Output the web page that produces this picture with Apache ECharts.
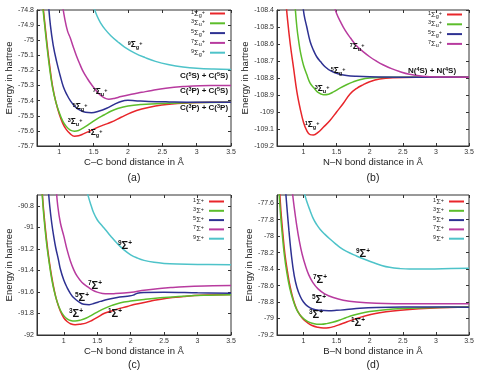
<!DOCTYPE html>
<html><head><meta charset="utf-8">
<script src="https://cdn.jsdelivr.net/npm/echarts@6/dist/echarts.min.js"></script>
<style>html,body{margin:0;padding:0;background:#fff}#c{width:480px;height:373px}</style>
</head><body><div id="c"></div>
<script>
// ---------- tick labels ----------
const xTicks = [1, 1.5, 2, 2.5, 3, 3.5];
const yTicksA = [-75.7, -75.6, -75.5, -75.4, -75.3, -75.2, -75.1, -75, -74.9, -74.8];
const yTicksB = [-109.2, -109.1, -109, -108.9, -108.8, -108.7, -108.6, -108.5, -108.4];
const yTicksC = [-92, -91.8, -91.6, -91.4, -91.2, -91, -90.8];
const yTicksD = [-79.2, -79, -78.8, -78.6, -78.4, -78.2, -78, -77.8, -77.6];

// ---------- state names ----------
const homoStates = ['1Σg+', '3Σu+', '5Σg+', '7Σu+', '9Σg+'];
const heteroStates = ['1Σ+', '3Σ+', '5Σ+', '7Σ+', '9Σ+'];
const colors = ['#e8262b', '#5cbd2b', '#2e3192', '#b83b9f', '#4ec3c9'];

// ---------- (a) C–C ----------
const cc1 = [[0.75,-74.72],[0.78,-74.85],[0.82,-75.02],[0.86,-75.17],[0.90,-75.30],[0.95,-75.41],[1.00,-75.49],[1.05,-75.55],[1.10,-75.59],[1.16,-75.62],[1.22,-75.635],[1.28,-75.632],[1.35,-75.62],[1.45,-75.60],[1.55,-75.578],[1.65,-75.56],[1.75,-75.543],[1.90,-75.51],[2.05,-75.478],[2.20,-75.455],[2.40,-75.435],[2.60,-75.423],[2.85,-75.415],[3.2,-75.41],[3.5,-75.41]];
const cc3 = [[0.75,-74.74],[0.78,-74.87],[0.82,-75.04],[0.86,-75.19],[0.90,-75.31],[0.95,-75.41],[1.00,-75.48],[1.05,-75.535],[1.10,-75.57],[1.16,-75.595],[1.22,-75.602],[1.28,-75.597],[1.35,-75.58],[1.45,-75.55],[1.55,-75.52],[1.65,-75.495],[1.75,-75.47],[1.85,-75.452],[2.0,-75.435],[2.2,-75.425],[2.5,-75.418],[3.0,-75.412],[3.5,-75.41]];
const cc5 = [[0.84,-74.75],[0.87,-74.9],[0.91,-75.03],[0.96,-75.14],[1.01,-75.23],[1.06,-75.31],[1.11,-75.36],[1.16,-75.40],[1.23,-75.44],[1.30,-75.463],[1.38,-75.477],[1.47,-75.48],[1.57,-75.47],[1.69,-75.45],[1.80,-75.425],[1.90,-75.405],[2.0,-75.398],[2.1,-75.40],[2.3,-75.405],[2.6,-75.408],[3.0,-75.41],[3.5,-75.41]];
const cc7 = [[1.04,-74.75],[1.08,-74.86],[1.12,-74.94],[1.16,-74.985],[1.20,-75.04],[1.25,-75.105],[1.30,-75.16],[1.35,-75.21],[1.41,-75.255],[1.47,-75.295],[1.53,-75.33],[1.59,-75.36],[1.65,-75.38],[1.72,-75.39],[1.80,-75.385],[1.90,-75.373],[2.05,-75.358],[2.20,-75.345],[2.35,-75.332],[2.55,-75.318],[2.80,-75.307],[3.05,-75.301],[3.5,-75.30]];
const cc9 = [[1.50,-74.78],[1.55,-74.84],[1.60,-74.885],[1.67,-74.93],[1.75,-74.97],[1.85,-75.01],[1.95,-75.045],[2.10,-75.085],[2.25,-75.115],[2.40,-75.14],[2.60,-75.162],[2.80,-75.177],[3.0,-75.186],[3.25,-75.191],[3.5,-75.193]];

// ---------- (b) N–N ----------
const nn1 = [[0.73,-108.33],[0.76,-108.46],[0.80,-108.6],[0.85,-108.74],[0.90,-108.88],[0.95,-108.98],[1.00,-109.06],[1.05,-109.11],[1.10,-109.133],[1.15,-109.135],[1.22,-109.12],[1.30,-109.09],[1.40,-109.05],[1.50,-109.0],[1.60,-108.95],[1.70,-108.895],[1.80,-108.862],[1.90,-108.84],[2.0,-108.822],[2.15,-108.806],[2.35,-108.798],[2.7,-108.795],[3.5,-108.795]];
const nn3 = [[0.87,-108.36],[0.90,-108.50],[0.93,-108.59],[0.96,-108.66],[1.00,-108.725],[1.05,-108.78],[1.10,-108.83],[1.15,-108.855],[1.22,-108.885],[1.30,-108.898],[1.38,-108.895],[1.46,-108.88],[1.55,-108.86],[1.65,-108.84],[1.75,-108.823],[1.85,-108.81],[2.0,-108.80],[2.3,-108.796],[3.5,-108.795]];
const nn5 = [[0.985,-108.35],[1.01,-108.43],[1.05,-108.50],[1.10,-108.585],[1.15,-108.636],[1.20,-108.675],[1.26,-108.705],[1.33,-108.735],[1.42,-108.76],[1.52,-108.775],[1.65,-108.785],[1.80,-108.79],[2.0,-108.793],[2.5,-108.795],[3.5,-108.795]];
const nn7 = [[1.46,-108.37],[1.50,-108.42],[1.56,-108.47],[1.63,-108.52],[1.71,-108.565],[1.80,-108.61],[1.90,-108.645],[2.0,-108.675],[2.1,-108.70],[2.2,-108.722],[2.33,-108.745],[2.45,-108.762],[2.6,-108.778],[2.8,-108.789],[3.0,-108.794],[3.5,-108.795]];

// ---------- (c) C–N ----------
const cn1 = [[0.67,-90.6],[0.70,-90.85],[0.74,-91.10],[0.78,-91.30],[0.82,-91.46],[0.86,-91.59],[0.90,-91.69],[0.95,-91.78],[1.00,-91.84],[1.05,-91.875],[1.10,-91.895],[1.17,-91.905],[1.25,-91.90],[1.33,-91.89],[1.42,-91.865],[1.52,-91.83],[1.60,-91.80],[1.70,-91.78],[1.80,-91.76],[1.95,-91.735],[2.05,-91.717],[2.29,-91.686],[2.54,-91.658],[2.79,-91.643],[3.04,-91.632],[3.5,-91.625]];
const cn3 = [[0.67,-90.62],[0.70,-90.88],[0.74,-91.13],[0.78,-91.32],[0.82,-91.48],[0.86,-91.60],[0.90,-91.69],[0.95,-91.77],[1.00,-91.82],[1.05,-91.85],[1.10,-91.865],[1.17,-91.87],[1.25,-91.862],[1.33,-91.845],[1.42,-91.815],[1.52,-91.78],[1.62,-91.75],[1.72,-91.725],[1.85,-91.70],[2.0,-91.685],[2.2,-91.67],[2.5,-91.652],[2.8,-91.64],[3.1,-91.632],[3.5,-91.627]];
const cn5 = [[0.765,-90.62],[0.79,-90.80],[0.82,-90.96],[0.85,-91.085],[0.88,-91.19],[0.92,-91.30],[0.95,-91.39],[1.00,-91.49],[1.05,-91.56],[1.10,-91.615],[1.15,-91.655],[1.22,-91.69],[1.30,-91.715],[1.38,-91.718],[1.46,-91.705],[1.55,-91.688],[1.65,-91.67],[1.80,-91.652],[1.95,-91.64],[2.04,-91.63],[2.10,-91.612],[2.2,-91.605],[2.5,-91.603],[3.0,-91.608],[3.5,-91.612]];
const cn7 = [[0.885,-90.62],[0.91,-90.80],[0.95,-90.96],[1.0,-91.08],[1.05,-91.21],[1.10,-91.315],[1.15,-91.395],[1.20,-91.454],[1.27,-91.51],[1.35,-91.55],[1.43,-91.583],[1.50,-91.602],[1.58,-91.614],[1.66,-91.618],[1.75,-91.616],[1.9,-91.61],[2.05,-91.60],[2.2,-91.585],[2.4,-91.57],[2.6,-91.56],[2.8,-91.552],[3.1,-91.545],[3.5,-91.54]];
const cn9 = [[1.345,-90.65],[1.37,-90.72],[1.41,-90.80],[1.45,-90.87],[1.50,-90.93],[1.55,-90.97],[1.62,-91.02],[1.70,-91.08],[1.80,-91.15],[1.90,-91.21],[2.0,-91.255],[2.1,-91.285],[2.2,-91.307],[2.35,-91.325],[2.5,-91.335],[2.7,-91.341],[3.0,-91.345],[3.5,-91.347]];

// ---------- (d) B–N ----------
const bn1 = [[0.64,-77.45],[0.66,-77.70],[0.69,-77.98],[0.72,-78.22],[0.76,-78.44],[0.80,-78.62],[0.85,-78.78],[0.90,-78.89],[0.95,-78.96],[1.00,-79.01],[1.06,-79.05],[1.13,-79.085],[1.21,-79.105],[1.30,-79.115],[1.38,-79.112],[1.47,-79.095],[1.56,-79.07],[1.66,-79.04],[1.76,-79.01],[1.88,-78.98],[2.0,-78.955],[2.15,-78.93],[2.35,-78.908],[2.6,-78.89],[2.9,-78.875],[3.2,-78.865],[3.5,-78.86]];
const bn3 = [[0.63,-77.45],[0.65,-77.70],[0.68,-77.98],[0.71,-78.22],[0.75,-78.45],[0.79,-78.62],[0.84,-78.77],[0.89,-78.88],[0.94,-78.95],[1.00,-79.0],[1.06,-79.035],[1.13,-79.058],[1.20,-79.068],[1.27,-79.07],[1.35,-79.062],[1.44,-79.045],[1.54,-79.02],[1.64,-78.99],[1.75,-78.96],[1.87,-78.935],[2.0,-78.915],[2.2,-78.895],[2.5,-78.878],[3.0,-78.865],[3.5,-78.86]];
const bn5 = [[0.73,-77.45],[0.75,-77.65],[0.78,-77.93],[0.82,-78.25],[0.86,-78.48],[0.90,-78.62],[0.95,-78.73],[1.00,-78.80],[1.06,-78.85],[1.14,-78.885],[1.25,-78.90],[1.38,-78.905],[1.50,-78.90],[1.65,-78.89],[1.85,-78.875],[2.1,-78.865],[2.5,-78.86],[3.0,-78.86],[3.5,-78.862]];
const bn7 = [[0.83,-77.45],[0.86,-77.65],[0.90,-77.88],[0.94,-78.07],[0.98,-78.22],[1.03,-78.36],[1.08,-78.47],[1.14,-78.56],[1.22,-78.64],[1.32,-78.70],[1.45,-78.745],[1.60,-78.778],[1.80,-78.80],[2.1,-78.815],[2.5,-78.82],[3.0,-78.822],[3.5,-78.822]];
const bn9 = [[1.01,-77.47],[1.05,-77.58],[1.10,-77.69],[1.15,-77.79],[1.20,-77.86],[1.25,-77.915],[1.32,-77.975],[1.40,-78.035],[1.48,-78.09],[1.55,-78.135],[1.65,-78.185],[1.80,-78.24],[1.95,-78.29],[2.05,-78.32],[2.18,-78.355],[2.30,-78.378],[2.45,-78.393],[2.6,-78.40],[2.8,-78.40],[3.1,-78.395],[3.5,-78.39]];

// ---------- layout ----------
const FONT = 'Liberation Sans, Arial, sans-serif';
const panels = [
  {grid:{left:37, top:10, width:194, height:136}, xmin:0.675, ymin:-75.7, ymax:-74.8, yticks:yTicksA, xname:'C–C bond distance in Å', names:homoStates, data:[cc1,cc3,cc5,cc7,cc9], legend:{right:255, top:9}, cap:'(a)', capPos:[134,178]},
  {grid:{left:277, top:10, width:192, height:136}, xmin:0.6, ymin:-109.2, ymax:-108.4, yticks:yTicksB, xname:'N–N bond distance in Å', names:homoStates.slice(0,4), data:[nn1,nn3,nn5,nn7], legend:{right:18, top:10}, cap:'(b)', capPos:[373,178]},
  {grid:{left:37, top:195, width:194, height:140}, xmin:0.6, ymin:-92, ymax:-90.7, yticks:yTicksC, xname:'C–N bond distance in Å', names:heteroStates, data:[cn1,cn3,cn5,cn7,cn9], legend:{right:256, top:197}, cap:'(c)', capPos:[134,365]},
  {grid:{left:277, top:195, width:192, height:140}, xmin:0.6, ymin:-79.2, ymax:-77.5, yticks:yTicksD, xname:'B–N bond distance in Å', names:heteroStates, data:[bn1,bn3,bn5,bn7,bn9], legend:{right:16, top:197}, cap:'(d)', capPos:[373,365]}
];

function fmtNum(v){ return String(Math.round(v*100)/100); }
function stateRich(name){
  const m = name.match(/^(\d)Σ([gu]?)\+$/);
  return '{p|' + m[1] + '}{s|Σ}' + (m[2] ? '{b|' + m[2] + '}' : '') + '{p|+}';
}
const legendRich = {
  p:{fontSize:5.5, verticalAlign:'top', lineHeight:5, fontFamily:FONT, color:'#222'},
  s:{fontSize:7.5, lineHeight:9, fontFamily:FONT, color:'#222'},
  b:{fontSize:5.5, verticalAlign:'bottom', lineHeight:5, fontFamily:FONT, color:'#222'}
};

const grids = [], xAxes = [], yAxes = [], series = [], legends = [], graphics = [];
panels.forEach((p, i) => {
  grids.push(Object.assign({show:true, borderColor:'#333', borderWidth:1, containLabel:false}, p.grid));
  const tickStyle = {show:true, inside:true, length:3, lineStyle:{color:'#333', width:1}};
  xAxes.push({type:'value', gridIndex:i, min:p.xmin, max:3.5, position:'bottom',
    axisLine:{show:true, lineStyle:{color:'#333'}},
    axisTick:Object.assign({customValues:xTicks}, tickStyle),
    axisLabel:{customValues:xTicks, fontSize:7, color:'#333', margin:3, fontFamily:FONT, formatter:fmtNum},
    splitLine:{show:false},
    name:p.xname, nameLocation:'middle', nameGap:10, nameTextStyle:{fontSize:9.5, color:'#222', fontFamily:FONT}});
  xAxes.push({type:'value', gridIndex:i, min:p.xmin, max:3.5, position:'top',
    axisLine:{show:false}, axisTick:Object.assign({customValues:xTicks}, tickStyle),
    axisLabel:{show:false}, splitLine:{show:false}});
  yAxes.push({type:'value', gridIndex:i, min:p.ymin, max:p.ymax, position:'left',
    axisLine:{show:true, lineStyle:{color:'#333'}},
    axisTick:Object.assign({customValues:p.yticks}, tickStyle),
    axisLabel:{customValues:p.yticks, fontSize:7, color:'#333', margin:3, fontFamily:FONT, formatter:fmtNum},
    splitLine:{show:false},
    name:'Energy in hartree', nameLocation:'middle', nameGap:21, nameRotate:90,
    nameTextStyle:{fontSize:9.5, color:'#222', fontFamily:FONT}});
  yAxes.push({type:'value', gridIndex:i, min:p.ymin, max:p.ymax, position:'right',
    axisLine:{show:false}, axisTick:Object.assign({customValues:p.yticks}, tickStyle),
    axisLabel:{show:false}, splitLine:{show:false}});
  p.names.forEach((nm, k) => {
    series.push({type:'line', name:nm, xAxisIndex:2*i, yAxisIndex:2*i, data:p.data[k],
      showSymbol:false, symbol:'none', smooth:0.4, clip:true,
      lineStyle:{width:1.5, color:colors[k]}, itemStyle:{color:colors[k]}, animation:false});
  });
  legends.push({data:p.names, orient:'vertical', right:p.legend.right, top:p.legend.top, align:'right',
    icon:'rect', itemWidth:15, itemHeight:2, itemGap:0.8, padding:0, selectedMode:false,
    formatter:stateRich, textStyle:{fontSize:7, fontFamily:FONT, color:'#222', rich:legendRich}});
  graphics.push({type:'text', x:p.capPos[0], y:p.capPos[1],
    style:{text:p.cap, fontSize:10.5, fontFamily:FONT, fill:'#222', align:'center', verticalAlign:'middle'}});
});

// ---------- in-plot annotations (pixel layout) ----------
const smallRich = {
  p:{fontSize:5.5, verticalAlign:'top', lineHeight:5, fontFamily:FONT, fill:'#111', fontWeight:'bold'},
  s:{fontSize:8.5, lineHeight:10, fontFamily:FONT, fill:'#111', fontWeight:'bold'},
  b:{fontSize:5.5, verticalAlign:'bottom', lineHeight:5, fontFamily:FONT, fill:'#111', fontWeight:'bold'}
};
const bigRich = {
  p:{fontSize:6.5, verticalAlign:'top', lineHeight:6, fontFamily:FONT, fill:'#111', fontWeight:'bold'},
  s:{fontSize:11, lineHeight:12, fontFamily:FONT, fill:'#111', fontWeight:'bold'},
  b:{fontSize:6.5, verticalAlign:'bottom', lineHeight:6, fontFamily:FONT, fill:'#111', fontWeight:'bold'}
};
const annSmall = [['9Σg+',135,45],['7Σu+',100,92],['5Σg+',80,107],['3Σu+',75,122],['1Σg+',95,133],
                  ['7Σu+',357,47],['5Σg+',338,71],['3Σu+',322,89],['1Σg+',312,125]];
const annBig = [['9Σ+',125,246],['7Σ+',95,286],['5Σ+',82,298],['3Σ+',76,314],['1Σ+',115,314],
                ['9Σ+',363,254],['7Σ+',320,280],['5Σ+',319,300],['3Σ+',316,315],['1Σ+',358,323]];
annSmall.forEach(a => graphics.push({type:'text', x:a[1], y:a[2], z:50,
  style:{text:stateRich(a[0]), rich:smallRich, align:'center', verticalAlign:'middle'}}));
annBig.forEach(a => graphics.push({type:'text', x:a[1], y:a[2], z:50,
  style:{text:stateRich(a[0]), rich:bigRich, align:'center', verticalAlign:'middle'}}));

const supRich = {
  t:{fontSize:8, fontFamily:FONT, fill:'#111', fontWeight:'bold', lineHeight:10},
  p:{fontSize:5.5, fontFamily:FONT, fill:'#111', fontWeight:'bold', verticalAlign:'top', lineHeight:5}
};
const limits = [['{t|C(}{p|5}{t|S) + C(}{p|5}{t|S)}',204,76],['{t|C(}{p|3}{t|P) + C(}{p|5}{t|S)}',204,91],
                ['{t|C(}{p|3}{t|P) + C(}{p|3}{t|P)}',204,108],['{t|N(}{p|4}{t|S) + N(}{p|4}{t|S)}',432,71]];
limits.forEach(a => graphics.push({type:'text', x:a[1], y:a[2], z:50,
  style:{text:a[0], rich:supRich, align:'center', verticalAlign:'middle'}}));

const chart = echarts.init(document.getElementById('c'), null, {renderer:'canvas'});
chart.setOption({
  backgroundColor:'#fff', animation:false,
  grid:grids, xAxis:xAxes, yAxis:yAxes, series:series, legend:legends, graphic:graphics
});
</script></body></html>
